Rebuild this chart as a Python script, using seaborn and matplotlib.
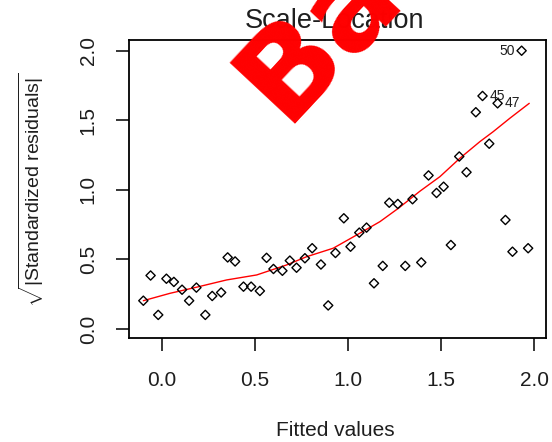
import matplotlib
matplotlib.use("Agg")
import matplotlib.pyplot as plt
import seaborn as sns
import pandas as pd

# Scale-location diagnostic: fitted values vs sqrt(|standardized residuals|)
fitted = [
    -0.100, -0.061, -0.020, 0.024, 0.064, 0.108, 0.146, 0.185, 0.233, 0.270,
    0.318, 0.353, 0.393, 0.438, 0.479, 0.526, 0.562, 0.599, 0.647, 0.687,
    0.723, 0.768, 0.807, 0.854, 0.893, 0.932, 0.977, 1.013, 1.060, 1.099,
    1.139, 1.186, 1.221, 1.267, 1.307, 1.346, 1.393, 1.432, 1.475, 1.513,
    1.552, 1.597, 1.636, 1.686, 1.722, 1.758, 1.803, 1.845, 1.883, 1.932,
    1.967,
]
sqrt_abs_std_resid = [
    0.203, 0.384, 0.101, 0.361, 0.338, 0.282, 0.203, 0.297, 0.101, 0.237,
    0.262, 0.514, 0.485, 0.304, 0.304, 0.273, 0.511, 0.431, 0.418, 0.491,
    0.440, 0.508, 0.580, 0.463, 0.169, 0.546, 0.795, 0.591, 0.692, 0.728,
    0.328, 0.453, 0.907, 0.898, 0.453, 0.932, 0.478, 1.103, 0.977, 1.022,
    0.603, 1.239, 1.126, 1.557, 1.674, 1.331, 1.621, 0.783, 0.555, 1.999,
    0.580,
]
obs_id = list(range(1, len(fitted) + 1))

# lowess smoother through the points
smooth_x = [-0.100, 0.043, 0.186, 0.347, 0.509, 0.670, 0.777, 0.920, 1.063,
            1.171, 1.270, 1.386, 1.493, 1.600, 1.708, 1.779, 1.869, 1.973]
smooth_y = [0.203, 0.256, 0.300, 0.352, 0.388, 0.460, 0.519, 0.580, 0.688,
            0.771, 0.867, 0.990, 1.094, 1.226, 1.346, 1.417, 1.514, 1.621]

flagged_obs = [45, 47, 50]
flagged_side = ["right", "right", "left"]

x_ticks = [0.0, 0.5, 1.0, 1.5, 2.0]
x_tick_labels = ["0.0", "0.5", "1.0", "1.5", "2.0"]
y_ticks = [0.0, 0.5, 1.0, 1.5, 2.0]
y_tick_labels = ["0.0", "0.5", "1.0", "1.5", "2.0"]

sns.set_theme(style="white")
plt.rcParams["font.family"] = ["Liberation Sans", "DejaVu Sans"]
plt.rcParams["mathtext.fontset"] = "custom"
plt.rcParams["mathtext.rm"] = "Liberation Sans"
plt.rcParams["mathtext.it"] = "Liberation Sans:italic"
plt.rcParams["mathtext.bf"] = "Liberation Sans:bold"

W, H = 552, 442
fig = plt.figure(figsize=(W / 100, H / 100), dpi=100)
fig.patch.set_facecolor("white")
ax = fig.add_axes([129 / W, 1 - 338 / H, 417 / W, 298 / H])

text_col = "#1e1e1e"

df = pd.DataFrame({"fitted": fitted, "resid": sqrt_abs_std_resid, "obs": obs_id})
sns.scatterplot(data=df, x="fitted", y="resid", ax=ax, marker="D", s=22,
                color="black", linewidth=1.0, legend=False, zorder=3)
pts = ax.collections[-1]
pts.set_facecolor("none")
pts.set_edgecolor("black")

sns.lineplot(x=smooth_x, y=smooth_y, ax=ax, color="red", linewidth=1.0,
             estimator=None, sort=False, zorder=2)

for obs, side in zip(flagged_obs, flagged_side):
    row = df[df["obs"] == obs].iloc[0]
    dx = 5 if side == "right" else -5
    ax.annotate(str(obs), (row["fitted"], row["resid"]), xytext=(dx, 0),
                textcoords="offset points", ha="left" if side == "right" else "right",
                va="center", fontsize=10, color=text_col)

ax.set_xlim(-0.177, 2.063)
ax.set_ylim(-0.065, 2.076)
ax.set_xticks(x_ticks)
ax.set_xticklabels(x_tick_labels)
ax.set_yticks(y_ticks)
ax.set_yticklabels(y_tick_labels)
ax.tick_params(axis="both", direction="out", length=9.5, width=1.1,
               color="black", labelsize=15, labelcolor=text_col,
               bottom=True, left=True)
ax.tick_params(axis="x", pad=14)
ax.tick_params(axis="y", pad=13, labelrotation=90)
for lab in ax.get_yticklabels():
    lab.set_va("center")

for sp in ax.spines.values():
    sp.set_visible(True)
    sp.set_color("black")
    sp.set_linewidth(1.3)

ax.set_xlabel("Fitted values", fontsize=15, color=text_col)
ax.xaxis.set_label_coords(0.495, -0.309)
ax.xaxis.label.set_va("center")
ax.set_ylabel(r"$\sqrt{|\mathrm{Standardized\ residuals}|}$", fontsize=14,
              color=text_col)
ax.yaxis.set_label_coords(-0.233, 0.497)
ax.yaxis.label.set_va("center")

ax.text(0.493, 1.064, "Scale-Location", transform=ax.transAxes, ha="center",
        va="center", fontsize=19.5, color=text_col)

# diagonal stamp across the top of the figure
fig.text(284.5 / W, 1 - 123.5 / H, "Bad", rotation=47, rotation_mode="anchor",
         ha="left", va="baseline", fontsize=88.5, fontweight="bold",
         family="DejaVu Sans", color="red", zorder=10)

fig.savefig("out.png", dpi=100, facecolor="white")
